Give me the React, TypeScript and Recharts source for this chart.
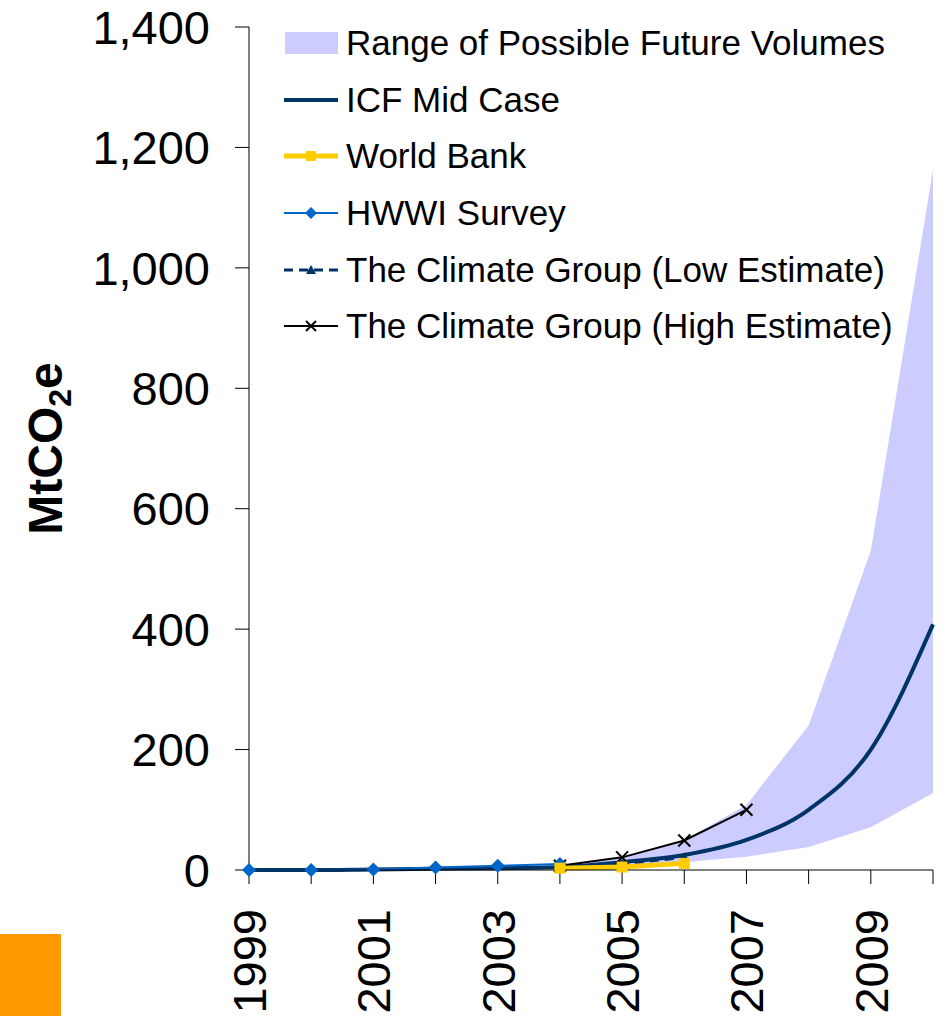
import React from "react";
import {
  ComposedChart, Area, Line, XAxis, YAxis, Legend,
} from "recharts";

const years = [1999, 2000, 2001, 2002, 2003, 2004, 2005, 2006, 2007, 2008, 2009, 2010];
const rangeLow = [null, null, null, null, null, 4, 8, 13, 22, 38, 71, 128];
const rangeHigh = [null, null, null, null, null, 6, 20, 50, 108, 240, 530, 1163];
const icfMid = [0, 0, 1, 2, 3, 5, 13, 25, 50, 100, 200, 408];
const worldBank = [null, null, null, null, null, 3, 5, 11, null, null, null, null];
const hwwi = [0, 0, 1, 4, 7, 10, null, null, null, null, null, null];
const cgLow = [null, null, null, null, null, 5, 10, 21, null, null, null, null];
const cgHigh = [null, null, null, null, null, 7, 21, 49, 100, null, null, null];
const yTicks = [0, 200, 400, 600, 800, 1000, 1200, 1400];

const data = years.map((year, i) => ({
  year,
  band: rangeLow[i] != null ? [rangeLow[i], rangeHigh[i]] : null,
  icf: icfMid[i],
  wb: worldBank[i],
  hwwi: hwwi[i],
  cgLow: cgLow[i],
  cgHigh: cgHigh[i],
}));

const FONT = "'Liberation Sans', Arial, sans-serif";
const NAVY = "#003366";
const BLUE = "#0066CC";
const YELLOW = "#FFCC00";
const LAVENDER = "#CCCCFF";

const legendItems = [
  { name: "Range of Possible Future Volumes", kind: "band" },
  { name: "ICF Mid Case", kind: "icf" },
  { name: "World Bank", kind: "wb" },
  { name: "HWWI Survey", kind: "hwwi" },
  { name: "The Climate Group (Low Estimate)", kind: "low" },
  { name: "The Climate Group (High Estimate)", kind: "high" },
];

const Diamond = ({ cx, cy, r, fill }: any) => (
  <polygon points={`${cx},${cy - r} ${cx + r},${cy} ${cx},${cy + r} ${cx - r},${cy}`} fill={fill} />
);
const Square = ({ cx, cy, r, fill }: any) => (
  <rect x={cx - r} y={cy - r} width={2 * r} height={2 * r} fill={fill} />
);
const Triangle = ({ cx, cy, r, fill }: any) => (
  <polygon points={`${cx},${cy - r} ${cx + r},${cy + r * 0.8} ${cx - r},${cy + r * 0.8}`} fill={fill} />
);
const Cross = ({ cx, cy, r, stroke }: any) => (
  <g stroke={stroke} strokeWidth={2}>
    <line x1={cx - r} y1={cy - r} x2={cx + r} y2={cy + r} />
    <line x1={cx - r} y1={cy + r} x2={cx + r} y2={cy - r} />
  </g>
);

const dotOf = (Shape: any, color: string, r: number) => (p: any) => {
  if (p.cx == null || p.cy == null || p.value == null) return <g key={p.index} />;
  return <Shape key={p.index} cx={p.cx} cy={p.cy} r={r} fill={color} stroke={color} />;
};

function LegendIcon({ kind }: { kind: string }) {
  const w = 54, h = 30, m = h / 2;
  let el: React.ReactNode = null;
  if (kind === "band") el = <rect x={1} y={4} width={w - 1} height={22} fill={LAVENDER} />;
  if (kind === "icf") el = <line x1={0} y1={m} x2={w} y2={m} stroke={NAVY} strokeWidth={4} />;
  if (kind === "wb") el = (
    <>
      <line x1={0} y1={m} x2={w} y2={m} stroke={YELLOW} strokeWidth={5} />
      <Square cx={w / 2} cy={m} r={5} fill={YELLOW} />
    </>
  );
  if (kind === "hwwi") el = (
    <>
      <line x1={0} y1={m} x2={w} y2={m} stroke={BLUE} strokeWidth={2} />
      <Diamond cx={w / 2} cy={m} r={6} fill={BLUE} />
    </>
  );
  if (kind === "low") el = (
    <>
      <line x1={0} y1={m} x2={w} y2={m} stroke={NAVY} strokeWidth={3} strokeDasharray="9 6" />
      <Triangle cx={w / 2} cy={m} r={5} fill={NAVY} />
    </>
  );
  if (kind === "high") el = (
    <>
      <line x1={0} y1={m} x2={w} y2={m} stroke="#000" strokeWidth={2} />
      <Cross cx={w / 2} cy={m} r={5} stroke="#000" />
    </>
  );
  return <svg width={w} height={h} style={{ display: "block" }}>{el}</svg>;
}

const renderLegend = () => (
  <div style={{ fontFamily: FONT, fontSize: 35, color: "#000" }}>
    {legendItems.map((it) => (
      <div key={it.name} style={{ display: "flex", alignItems: "center", height: 56.6 }}>
        <LegendIcon kind={it.kind} />
        <span style={{ marginLeft: 8, whiteSpace: "nowrap" }}>{it.name}</span>
      </div>
    ))}
  </div>
);

const XTick = ({ x, y, payload }: any) => {
  if (payload.value % 2 === 0) return <g />;
  return (
    <text x={x} y={y} transform={`rotate(-90, ${x}, ${y})`} textAnchor="end" dy="0.36em"
      fontSize={47} fontFamily={FONT} fill="#000">
      {payload.value}
    </text>
  );
};

const YLabel = ({ viewBox }: any) => {
  const cx = 45;
  const cy = viewBox.y + viewBox.height / 2;
  return (
    <text x={cx} y={cy} transform={`rotate(-90, ${cx}, ${cy})`} textAnchor="middle" dy="0.36em"
      fontSize={48} fontWeight="bold" fontFamily={FONT} fill="#000">
      MtCO<tspan fontSize={32} dy={9}>2</tspan><tspan dy={-9}>e</tspan>
    </text>
  );
};

export default function App() {
  return (
    <div style={{ position: "absolute", left: 0, top: 0, width: 945, height: 1016, background: "#fff" }}>
      <ComposedChart width={945} height={1016} data={data} margin={{ top: 27, right: 12, bottom: 0, left: 0 }}>
        <XAxis
          dataKey="year" type="number" domain={[1999, 2010]} ticks={years} interval={0}
          height={146} tickSize={14} tickMargin={25} tick={<XTick />}
          stroke="#000" axisLine={{ stroke: "#000" }} tickLine={{ stroke: "#000" }}
        />
        <YAxis
          domain={[0, 1400]} ticks={yTicks} width={249} tickSize={14} tickMargin={25}
          tickFormatter={(v: number) => v.toLocaleString("en-US")}
          tick={{ fontSize: 47, fontFamily: FONT, fill: "#000" }}
          stroke="#000" label={{ content: <YLabel /> }}
        />
        <Legend layout="vertical" align="center" verticalAlign="middle" content={renderLegend}
          wrapperStyle={{ left: 284, top: 15, width: 640, height: 340 }} />
        <Area type="linear" dataKey="band" name="Range of Possible Future Volumes" fill={LAVENDER}
          fillOpacity={1} stroke="none" isAnimationActive={false} />
        <Line type="monotone" dataKey="icf" name="ICF Mid Case" stroke={NAVY} strokeWidth={4}
          dot={false} isAnimationActive={false} />
        <Line type="linear" dataKey="cgLow" name="The Climate Group (Low Estimate)" stroke={NAVY}
          strokeWidth={3} strokeDasharray="9 6" dot={dotOf(Triangle, NAVY, 5)} isAnimationActive={false} />
        <Line type="linear" dataKey="cgHigh" name="The Climate Group (High Estimate)" stroke="#000"
          strokeWidth={2} dot={dotOf(Cross, "#000", 6)} isAnimationActive={false} />
        <Line type="linear" dataKey="hwwi" name="HWWI Survey" stroke={BLUE} strokeWidth={2}
          dot={dotOf(Diamond, BLUE, 7)} isAnimationActive={false} />
        <Line type="linear" dataKey="wb" name="World Bank" stroke={YELLOW} strokeWidth={5}
          dot={dotOf(Square, YELLOW, 5.5)} isAnimationActive={false} />
      </ComposedChart>
      <div style={{ position: "absolute", left: 0, top: 934, width: 61, height: 82, background: "#FF9900" }} />
    </div>
  );
}
